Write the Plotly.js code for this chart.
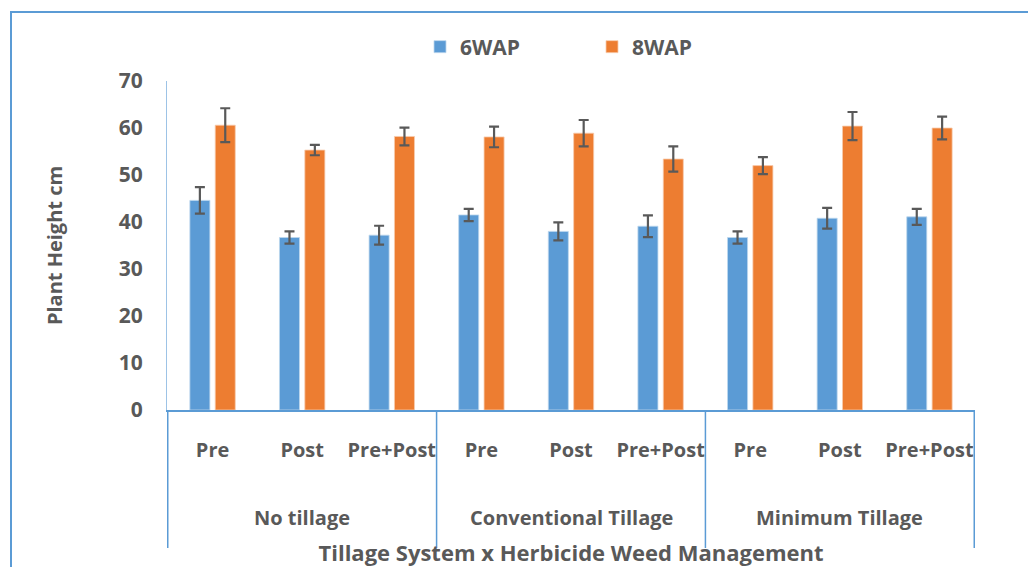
<!DOCTYPE html>
<html>
<head>
<meta charset="utf-8">
<script src="https://cdn.plot.ly/plotly-3.0.1.min.js"></script>
<style>
  html, body { margin: 0; padding: 0; background: #ffffff; }
  #chart { width: 1028px; height: 567px; }
</style>
</head>
<body>
<div id="chart"></div>
<script>
// ---- data ----
const tillageSystems = ["No tillage", "Conventional Tillage", "Minimum Tillage"];
const herbicideTreatments = ["Pre", "Post", "Pre+Post"];
const wap6 = [44.6, 36.7, 37.2, 41.5, 38.0, 39.1, 36.7, 40.8, 41.1];
const wap6Err = [2.8, 1.3, 2.0, 1.3, 1.9, 2.3, 1.3, 2.2, 1.7];
const wap8 = [60.6, 55.3, 58.2, 58.1, 58.9, 53.4, 52.0, 60.4, 60.0];
const wap8Err = [3.6, 1.1, 1.9, 2.2, 2.8, 2.7, 1.8, 3.0, 2.4];
const seriesNames = ["6WAP", "8WAP"];
const yTicks = [0, 10, 20, 30, 40, 50, 60, 70];

// ---- build category keys ----
const keys = [];
const tickText = [];
tillageSystems.forEach(t => herbicideTreatments.forEach(h => { keys.push(t + " | " + h); tickText.push(h); }));

const textColor = "#595959";
const lineBlue = "#5B9BD5";
const font = "'Open Sans', 'DejaVu Sans', sans-serif";

const errStyle = { type: "data", visible: true, color: "#595959", thickness: 2.2, width: 5 };

const traces = [
  { type: "bar", name: seriesNames[0], x: keys, y: wap6,
    marker: { color: "#5B9BD5", line: { color: "#BDD7EE", width: 0.8 } },
    error_y: Object.assign({ array: wap6Err }, errStyle) },
  { type: "bar", name: seriesNames[1], x: keys, y: wap8,
    marker: { color: "#ED7D31", line: { color: "#F8CBAD", width: 0.8 } },
    error_y: Object.assign({ array: wap8Err }, errStyle) }
];

// plot area in pixels: x 167..975, y 81..410
const L = 167, R = 975, T = 81, B = 410;
const pw = R - L, ph = B - T;
const px = v => (v - L) / pw;
const py = v => (B - v) / ph;

const shapes = [];
// group dividers below x axis
for (let g = 0; g <= tillageSystems.length; g++) {
  shapes.push({ type: "line", xref: "x", yref: "paper",
    x0: g * herbicideTreatments.length - 0.5, x1: g * herbicideTreatments.length - 0.5,
    y0: 0, y1: py(548), line: { color: lineBlue, width: 1.5 } });
}
// outer chart border (cropped)
shapes.push({ type: "rect", xref: "paper", yref: "paper", layer: "below",
  x0: px(11), x1: px(1060), y0: py(620), y1: py(12),
  line: { color: lineBlue, width: 2 }, fillcolor: "rgba(0,0,0,0)" });

const annotations = tillageSystems.map((t, i) => ({
  xref: "x", yref: "paper",
  x: keys[i * herbicideTreatments.length + 1], y: py(517),
  text: t, showarrow: false, xanchor: "center", yanchor: "middle",
  font: { family: font, size: 20, color: textColor, weight: "bold" }
}));

const layout = {
  width: 1028, height: 567,
  margin: { l: L, r: 1028 - R, t: T, b: 567 - B, pad: 0 },
  paper_bgcolor: "#ffffff", plot_bgcolor: "#ffffff",
  barmode: "group", bargap: 0.434, bargroupgap: 0.21,
  showlegend: true,
  legend: { orientation: "h", x: px(420), xanchor: "left", y: py(47), yanchor: "middle",
    font: { family: font, size: 21, color: textColor, weight: "bold" },
    entrywidth: 127, entrywidthmode: "pixels", itemwidth: 30, traceorder: "normal" },
  font: { family: font, color: textColor },
  xaxis: {
    type: "category", tickmode: "array", tickvals: keys, ticktext: tickText,
    tickfont: { family: font, size: 20, color: textColor, weight: "bold" },
    ticks: "", showline: true, linecolor: lineBlue, linewidth: 2,
    showgrid: false, zeroline: false, ticklabelstandoff: 21, automargin: false,
    title: { text: "Tillage System x Herbicide Weed Management", standoff: 98,
      font: { family: font, size: 22, color: textColor, weight: "bold" } }
  },
  yaxis: {
    range: [0, 70], tickmode: "array", tickvals: yTicks, ticktext: yTicks.map(String),
    tickfont: { family: font, size: 21, color: textColor, weight: "bold" },
    ticks: "", showline: true, linecolor: "#9DC3E6", linewidth: 1,
    showgrid: false, zeroline: false, ticklabelstandoff: 19, automargin: false,
    title: { text: "Plant Height cm", standoff: 50,
      font: { family: font, size: 20, color: textColor, weight: "bold" } }
  },
  shapes: shapes,
  annotations: annotations
};

Plotly.newPlot("chart", traces, layout, { displayModeBar: false, staticPlot: true });
</script>
</body>
</html>
